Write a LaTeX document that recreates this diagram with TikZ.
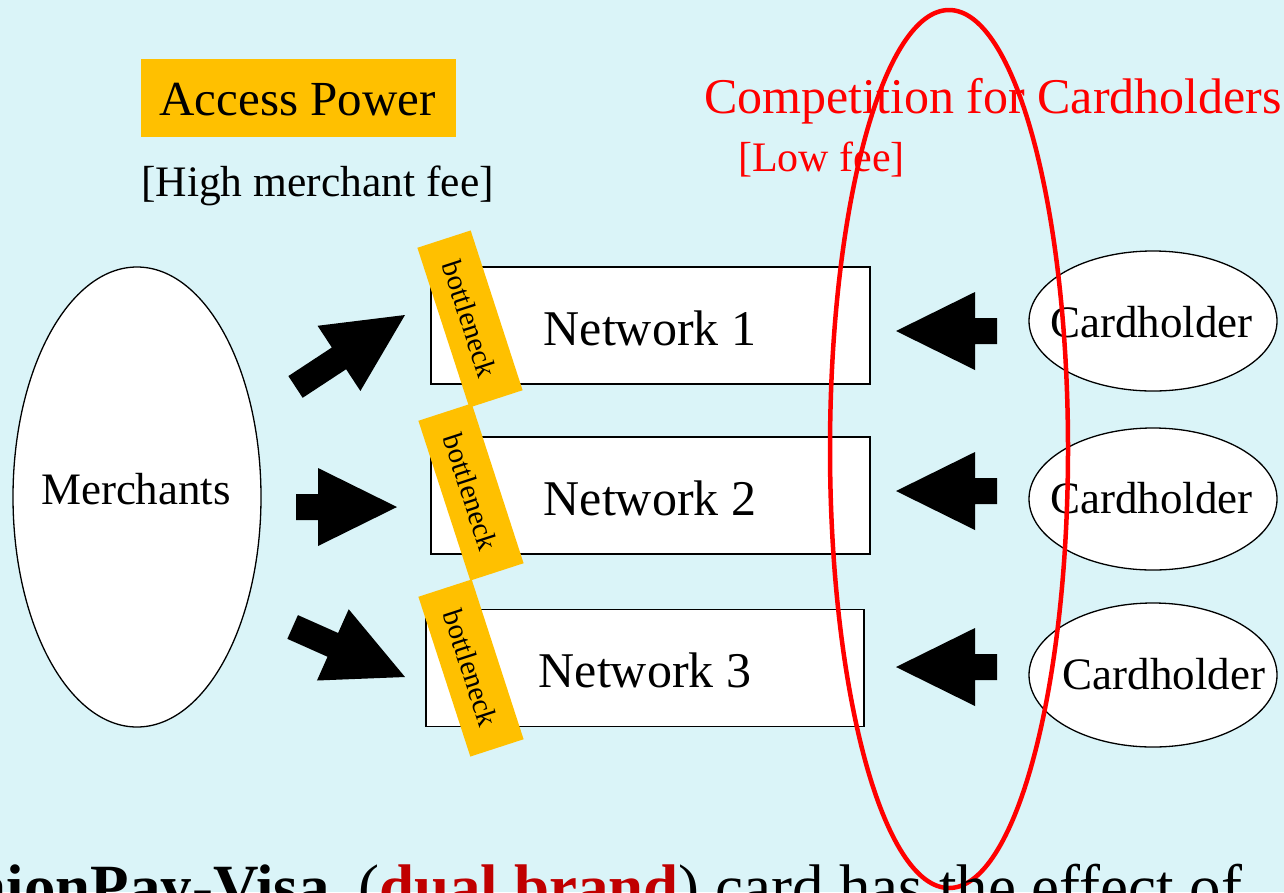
\documentclass[tikz,border=0pt]{standalone}
\usepackage{fontspec}
\setmainfont{Liberation Serif}
\usetikzlibrary{shapes.geometric}
\definecolor{bgc}{HTML}{DAF4F8}
\definecolor{orng}{HTML}{FFC000}
\definecolor{dred}{HTML}{C00000}
\newcommand{\fsz}[1]{\fontsize{#1}{#1}\selectfont}
\newcommand{\blockarr}[4]{%
  \begin{scope}[shift={(#1,#2)},rotate=#3]
    \fill[black] (0,0) -- (-79,39) -- (-79,13) -- (-#4,13) -- (-#4,-13) -- (-79,-13) -- (-79,-39) -- cycle;
  \end{scope}}
\begin{document}
\begin{tikzpicture}[x=1pt,y=-1pt,
  netbox/.style={draw=black,line width=1.3pt,fill=white,minimum width=439pt,minimum height=117pt,inner sep=0pt},
  bneck/.style={fill=orng,minimum width=168pt,minimum height=56pt,inner sep=0pt,rotate=-72,font=\fsz{29}},
  oval/.style={ellipse,draw=black,line width=1.3pt,fill=white,inner sep=0pt},
  lbl/.style={inner sep=0pt,anchor=center}]
\useasboundingbox (0,0) rectangle (1284,892);
\clip (0,0) rectangle (1284,892);
\fill[bgc] (0,0) rectangle (1284,892);

% title boxes
\node[fill=orng,minimum width=315pt,minimum height=78pt,inner sep=0pt] (ap) at (298.5,98) {};
\node[lbl] (apt) at (297.5,100) {\fsz{49}Access Power};
\node[lbl] (hmf) at (317.5,186) {\fsz{43.5}[High merchant fee]};
\node[lbl,text=red] (cfc) at (993,101) {\fsz{50}Competition for Cardholders};
\node[lbl,text=red] (lf) at (821.5,160) {\fsz{42}[Low fee]};

% merchants
\node[oval,minimum width=248pt,minimum height=460pt] (m) at (137,497) {};
\node[lbl] (mt) at (136,489) {\fsz{45}Merchants};

% networks
\node[netbox] (n1) at (650.5,325.5) {};
\node[netbox] (n2) at (650.5,495.5) {};
\node[netbox,minimum width=438pt] (n3) at (645,668) {};
\node[lbl] (n1t) at (650,328) {\fsz{50}Network 1};
\node[lbl] (n2t) at (650,498) {\fsz{50}Network 2};
\node[lbl] (n3t) at (645,670) {\fsz{50}Network 3};

% bottlenecks
\node[bneck] (b1) at (470,319) {bottleneck};
\node[bneck] (b2) at (471,492) {bottleneck};
\node[bneck] (b3) at (471,668) {bottleneck};

% cardholders
\node[oval,minimum width=248pt,minimum height=140pt] (c1) at (1153,321) {};
\node[oval,minimum width=248pt,minimum height=142pt] (c2) at (1153,499) {};
\node[oval,minimum width=248pt,minimum height=144pt] (c3) at (1153,675) {};
\node[lbl] (c1t) at (1151.5,322) {\fsz{45}Cardholder};
\node[lbl] (c2t) at (1151.5,498) {\fsz{45}Cardholder};
\node[lbl] (c3t) at (1164,674) {\fsz{45}Cardholder};

% block arrows
\blockarr{405}{315}{33.3}{131}
\blockarr{397}{507}{0}{101}
\blockarr{405}{677}{-24}{123}
\blockarr{896}{331}{180}{101}
\blockarr{896}{491}{180}{101}
\blockarr{896}{667}{180}{101}

% red ellipse
\draw[red,line width=4.5pt] (949,449) ellipse [x radius=119, y radius=439];

% bottom text (cut off)
\coordinate (bt) at (358,908);
\node[inner sep=0pt,anchor=base east] (bl) at (330,908) {\fsz{63}\textbf{UnionPay-Visa}};
\node[inner sep=0pt,anchor=base west] (br) at (bt) {\fsz{63}(\textcolor{dred}{\textbf{dual brand}}) card has the effect of};
\end{tikzpicture}
\end{document}
